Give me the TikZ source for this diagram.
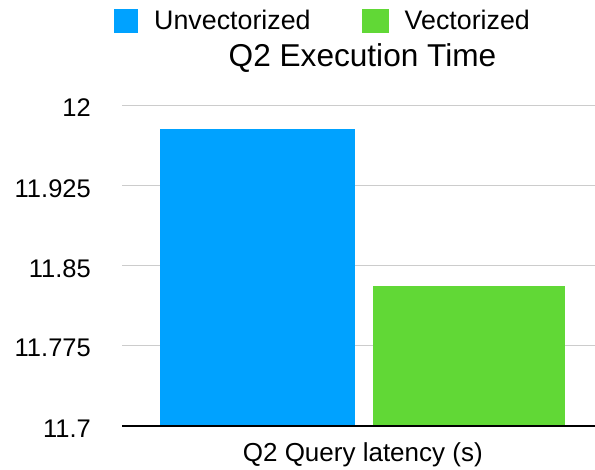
\documentclass[tikz,border=0pt]{standalone}
\usepackage{fontspec}
\setmainfont{Liberation Sans}
\definecolor{barblue}{HTML}{00A2FF}
\definecolor{bargreen}{HTML}{61D836}
\definecolor{gridgray}{HTML}{CCCCCC}
\begin{document}
\begin{tikzpicture}[x=1pt,y=-1pt,
  lbl/.style={inner sep=0pt, font=\fontsize{25.5}{28}\selectfont},
  legtext/.style={inner sep=0pt, anchor=base west, font=\fontsize{26.8}{29}\selectfont},
  gridline/.style={draw=gridgray, line width=1.3pt},
  axisline/.style={draw=black, line width=1.6pt}]
  \useasboundingbox (0,0) rectangle (595,470);
  \fill[white] (0,0) rectangle (595,470);

  % horizontal grid lines and value labels (11.7 .. 12, step 0.075)
  \foreach \yy/\v in {105.7/12, 185.8/11.925, 265.8/11.85, 345.7/11.775} {
    \draw[gridline] (122,\yy) -- (595,\yy);
    \node[lbl, anchor=base east] at (91,\yy+11.3) {\v};
  }
  \node[lbl, anchor=base east] (ymin) at (91,426+11.3) {11.7};

  % bars
  \fill[barblue] (160,129) rectangle (355,426);
  \fill[bargreen] (373,286) rectangle (565,426);

  % category axis
  \draw[axisline] (122,426) -- (595,426);
  \node[inner sep=0pt, anchor=base, font=\fontsize{26}{29}\selectfont] (xlabel) at (362.8,461) {Q2 Query latency (s)};

  % title
  \node[inner sep=0pt, anchor=base, font=\fontsize{31.6}{34}\selectfont] (title) at (362.5,66.5) {Q2 Execution Time};

  % legend
  \fill[barblue] (114,9.3) rectangle (138,32.8);
  \node[legtext] (legA) at (154,29.5) {Unvectorized};
  \fill[bargreen] (362,9.3) rectangle (389,32.8);
  \node[legtext] (legB) at (404.5,29.5) {Vectorized};
\end{tikzpicture}
\end{document}
